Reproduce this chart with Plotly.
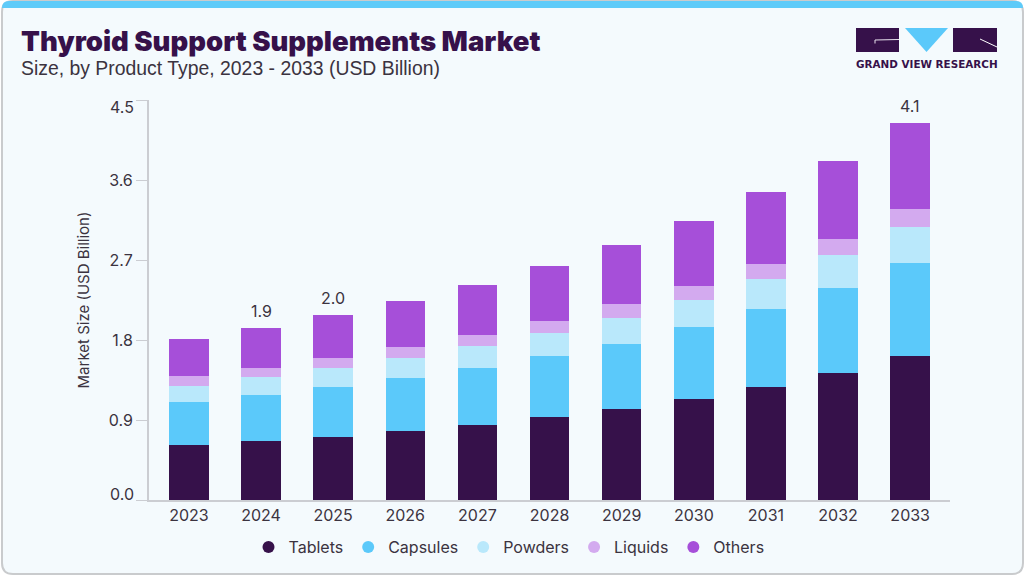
import plotly.graph_objects as go

years = ["2023", "2024", "2025", "2026", "2027", "2028", "2029", "2030", "2031", "2032", "2033"]

# layer heights (USD billion)
tablets = [0.62, 0.66, 0.71, 0.78, 0.84, 0.93, 1.02, 1.14, 1.27, 1.43, 1.62]
capsules = [0.48, 0.52, 0.56, 0.59, 0.64, 0.69, 0.74, 0.81, 0.88, 0.96, 1.05]
powders = [0.18, 0.20, 0.22, 0.23, 0.25, 0.26, 0.29, 0.30, 0.34, 0.37, 0.40]
liquids = [0.11, 0.11, 0.11, 0.12, 0.13, 0.13, 0.15, 0.16, 0.17, 0.18, 0.20]
others = [0.42, 0.45, 0.48, 0.52, 0.56, 0.62, 0.67, 0.73, 0.80, 0.87, 0.97]

label_years = ["2024", "2025", "2033"]
label_text = ["1.9", "2.0", "4.1"]

y_ticks = [0, 0.9, 1.8, 2.7, 3.6, 4.5]

series = [
    ("Tablets", tablets, "#36114a"),
    ("Capsules", capsules, "#5bc9fa"),
    ("Powders", powders, "#b9e8fb"),
    ("Liquids", liquids, "#d3aaef"),
    ("Others", others, "#a64fd9"),
]

W, H = 1025, 576
L, R, T, B = 149, 75, 100, 76
FONT = "Inter"
TEXT = "#3b3340"


def px(x):
    return (x - L) / (W - L - R)


def py(y):
    return 1 - (y - T) / (H - T - B)


def rounded(x0, y0, x1, y1, r):
    # rounded top and bottom corners, in paper coordinates
    return (f"M {px(x0 + r)} {py(y0)} L {px(x1 - r)} {py(y0)} Q {px(x1)} {py(y0)} {px(x1)} {py(y0 + r)} "
            f"L {px(x1)} {py(y1 - r)} Q {px(x1)} {py(y1)} {px(x1 - r)} {py(y1)} "
            f"L {px(x0 + r)} {py(y1)} Q {px(x0)} {py(y1)} {px(x0)} {py(y1 - r)} "
            f"L {px(x0)} {py(y0 + r)} Q {px(x0)} {py(y0)} {px(x0 + r)} {py(y0)} Z")


def top_band(x0, y0, x1, y1, r):
    return (f"M {px(x0)} {py(y1)} L {px(x0)} {py(y0 + r)} Q {px(x0)} {py(y0)} {px(x0 + r)} {py(y0)} "
            f"L {px(x1 - r)} {py(y0)} Q {px(x1)} {py(y0)} {px(x1)} {py(y0 + r)} L {px(x1)} {py(y1)} Z")


def paper_shape(**kw):
    return dict(xref="paper", yref="paper", **kw)


def box(x0, y0, x1, y1, color):
    return paper_shape(type="rect", x0=px(x0), x1=px(x1), y0=py(y1), y1=py(y0),
                       fillcolor=color, line_width=0)


def poly(points, fill=None, line=None, width=1):
    path = "M " + " L ".join(f"{px(a)} {py(b)}" for a, b in points)
    if fill:
        path += " Z"
    return paper_shape(type="path", path=path, fillcolor=fill or "rgba(0,0,0,0)",
                       line=dict(color=line, width=width) if line else dict(width=0))


shapes = [
    paper_shape(type="path", path=rounded(2, 1, 1023, 574, 11), fillcolor="#f4fafd",
                line=dict(color="#c9cbcd", width=2), layer="below"),
    paper_shape(type="path", path=top_band(2, 1, 1023, 8, 7), fillcolor="#5ecbf9",
                line_width=0, layer="below"),
    # logo
    box(856, 28, 899, 52, "#36114a"),
    box(953, 28, 997, 52, "#36114a"),
    poly([(905, 28), (948, 28), (926.5, 52)], fill="#5bc9fa"),
    poly([(875, 43.5), (875, 40), (899, 39.5)], line="#e9e3ee", width=1),
    poly([(980, 39), (997, 47)], line="#ffffff", width=1),
]

fig = go.Figure()
for name, values, color in series:
    fig.add_trace(go.Bar(x=years, y=values, name=name, marker=dict(color=color, line_width=0),
                         width=0.548, showlegend=False))
    # legend uses round markers, the bars themselves stay out of it
    fig.add_trace(go.Scatter(x=[years[0]], y=[None], mode="markers", name=name,
                             marker=dict(color=color, size=12, symbol="circle")))

totals = [sum(v) for v in zip(tablets, capsules, powders, liquids, others)]
annotations = [
    dict(x=years.index(yr), y=totals[years.index(yr)], text=txt, showarrow=False, yanchor="bottom", yshift=5,
         font=dict(family=FONT, size=16, color=TEXT))
    for yr, txt in zip(label_years, label_text)
]
# first and last y labels sit nudged off their ticks in the original
annotations += [
    dict(xref="paper", y=y_ticks[-1], x=px(135.5), text=f"{y_ticks[-1]:.1f}", showarrow=False, xanchor="right",
         yshift=-7, font=dict(family=FONT, size=16, color=TEXT)),
    dict(xref="paper", y=y_ticks[0], x=px(135.5), text=f"{y_ticks[0]:.1f}", showarrow=False, xanchor="right",
         yshift=6, font=dict(family=FONT, size=16, color=TEXT)),
]
annotations += [
    dict(xref="paper", yref="paper", x=px(19), y=py(41), text="Thyroid Support Supplements Market",
         showarrow=False, xanchor="left", yanchor="middle",
         font=dict(family="Inter", size=27.5, color="#36114a", weight=900)),
    dict(xref="paper", yref="paper", x=px(19), y=py(68), text="Size, by Product Type, 2023 - 2033 (USD Billion)",
         showarrow=False, xanchor="left", yanchor="middle",
         font=dict(family="Liberation Sans", size=19.4, color=TEXT)),
    dict(xref="paper", yref="paper", x=px(926.5), y=py(64), text="<b>GRAND VIEW RESEARCH</b>",
         showarrow=False, xanchor="center", yanchor="middle",
         font=dict(family="DejaVu Sans", size=10.4, color="#36114a")),
]

tick_text = [f"{v:.1f}" for v in y_ticks]
tick_text[0] = " "
tick_text[-1] = " "

fig.update_layout(
    width=W, height=H,
    margin=dict(l=L, r=R, t=T, b=B, autoexpand=False),
    paper_bgcolor="#ffffff",
    plot_bgcolor="rgba(0,0,0,0)",
    barmode="stack",
    font=dict(family=FONT, color=TEXT),
    shapes=shapes,
    annotations=annotations,
    legend=dict(orientation="h", traceorder="normal", x=px(509), xanchor="center", y=py(547), yanchor="middle",
                font=dict(family=FONT, size=16, color=TEXT), itemwidth=30, bgcolor="rgba(0,0,0,0)"),
    xaxis=dict(type="category", range=[-0.553, 10.552], showgrid=False, zeroline=False,
               showline=True, linecolor="#cbcdd2", linewidth=2, ticks="",
               tickfont=dict(family=FONT, size=16, color=TEXT)),
    yaxis=dict(range=[0, 4.5], tickvals=y_ticks, ticktext=tick_text,
               showgrid=False, zeroline=False, showline=True, linecolor="#cbcdd2", linewidth=2,
               ticks="outside", ticklen=11, tickcolor="#cbcdd2", tickwidth=1,
               tickfont=dict(family=FONT, size=16, color=TEXT),
               title=dict(text="Market Size (USD Billion)", standoff=15,
                          font=dict(family=FONT, size=15, color=TEXT))),
)

fig.write_html("out.html", config=dict(displayModeBar=False), post_script="document.body.style.margin='0';")
